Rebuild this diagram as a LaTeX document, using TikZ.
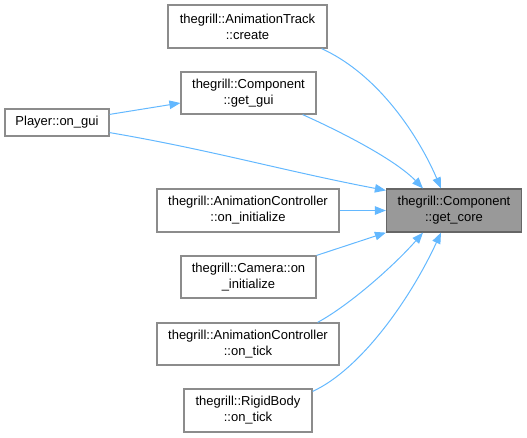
\documentclass[tikz,border=0pt]{standalone}
\usepackage{fontspec}
\setmainfont{Liberation Sans}
\usetikzlibrary{arrows.meta}
\definecolor{edgeblue}{HTML}{63B8FF}
\definecolor{boxgray}{HTML}{8C8C8C}
\definecolor{coregray}{HTML}{999999}
\definecolor{coreline}{HTML}{666666}
\tikzset{
  fn/.style={draw=boxgray, line width=1.2pt, fill=white, align=center, inner sep=0pt,
    font=\fontsize{13}{16}\selectfont, text=black},
  corefn/.style={fn, draw=coreline, fill=coregray},
  callarrow/.style={draw=edgeblue, line width=1pt, -{Triangle[length=11pt,width=8.5pt]}, color=edgeblue}
}
\begin{document}
\begin{tikzpicture}[x=1pt,y=-1pt]
\useasboundingbox (0,0) rectangle (527,437);
\node[fn, minimum width=159pt, minimum height=43pt] (track) at (247.5,26.5) {thegrill::AnimationTrack\\::create};
\node[fn, minimum width=135pt, minimum height=42pt] (gui) at (248.5,93) {thegrill::Component\\::get\_gui};
\node[fn, minimum width=104pt, minimum height=27pt] (player) at (57,122.5) {Player::on\_gui};
\node[corefn, minimum width=135pt, minimum height=43pt] (core) at (454,210.5) {thegrill::Component\\::get\_core};
\node[fn, minimum width=182pt, minimum height=43pt] (init) at (248,210.5) {thegrill::AnimationController\\::on\_initialize};
\node[fn, minimum width=135pt, minimum height=42pt] (cam) at (248.5,277) {thegrill::Camera::on\\\_initialize};
\node[fn, minimum width=182pt, minimum height=42pt] (tick) at (248,344) {thegrill::AnimationController\\::on\_tick};
\node[fn, minimum width=128pt, minimum height=43pt] (rigid) at (248,410.5) {thegrill::RigidBody\\::on\_tick};

\draw[callarrow] ([xshift=-6pt]track.south east) .. controls +(59,27) and +(-21,-49) .. ([xshift=-13pt]core.north);
\draw[callarrow] ([xshift=-14pt]gui.south east) .. controls +(38,17) and +(-28,-29) .. ([xshift=-31pt]core.north);
\draw[callarrow] ([yshift=4pt]player.south east) .. controls +(100,17) and +(-100,-19) .. ([yshift=-2pt]core.north west);
\draw[callarrow] ([yshift=-6pt]player.north east) -- ([yshift=-10pt]gui.west);
\draw[callarrow] (init.east) -- (core.west);
\draw[callarrow] (cam.north east) -- (core.south west);
\draw[callarrow] ([xshift=-22pt]tick.north east) .. controls +(33,-18) and +(-28,32) .. ([xshift=-31pt]core.south);
\draw[callarrow] ([yshift=-3pt]rigid.north east) .. controls +(48,-22) and +(-31,67) .. ([xshift=-13pt]core.south);
\end{tikzpicture}
\end{document}
